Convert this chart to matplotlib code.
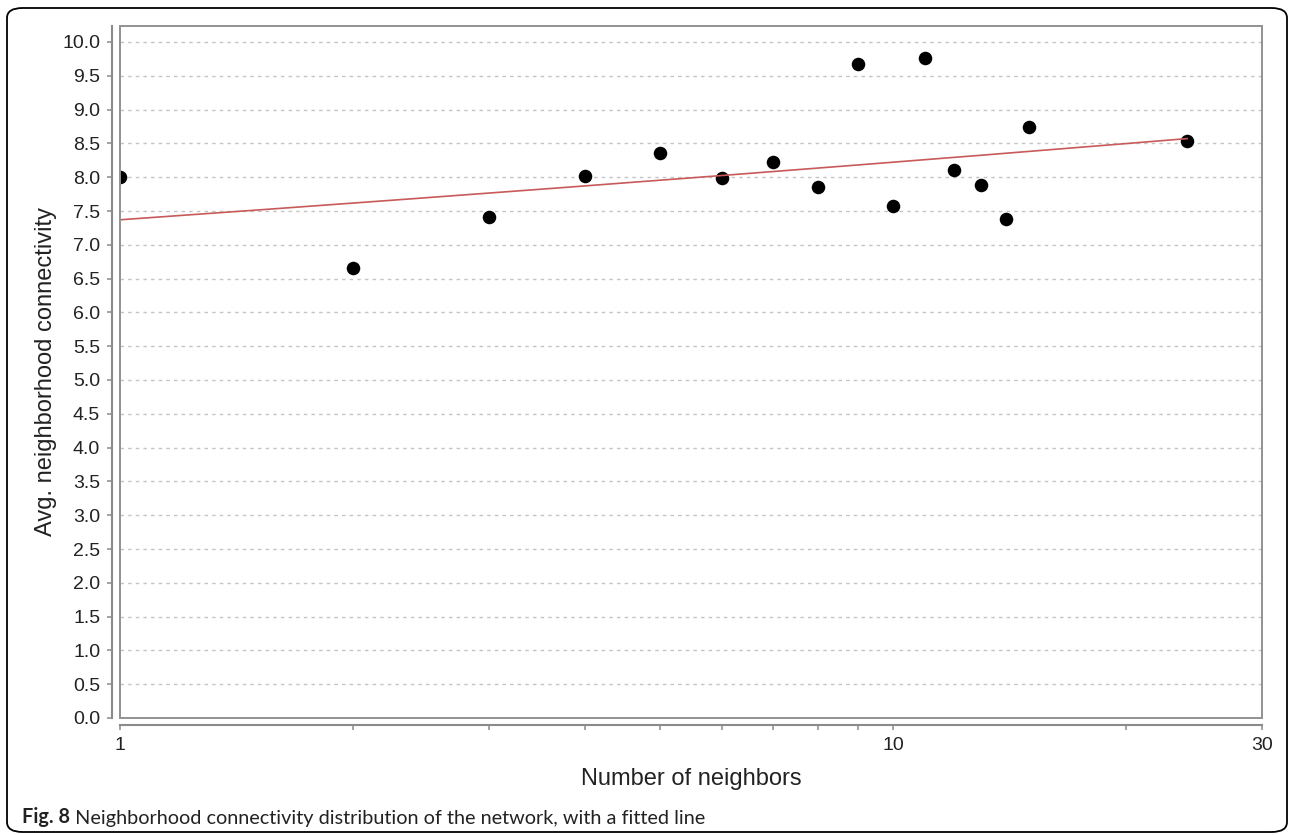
import numpy as np
import matplotlib
matplotlib.use("Agg")
from matplotlib import pyplot as plt
from matplotlib.patches import FancyBboxPatch, Rectangle

# data
neighbors = [1, 2, 3, 4, 5, 6, 7, 8, 9, 10, 11, 12, 13, 14, 15, 24]
avg_conn = [8.0, 6.66, 7.41, 8.02, 8.36, 7.99, 8.22, 7.86, 9.67, 7.58,
            9.76, 8.11, 7.88, 7.38, 8.75, 8.53]

# fitted power law y = a * x^b
fit_a = 7.37
fit_b = 0.0475

x_tick_values = [1, 2, 3, 4, 5, 6, 7, 8, 9, 10, 20, 30]
x_tick_labels = ['1', '', '', '', '', '', '', '', '', '10', '', '30']
y_tick_values = np.arange(0, 10.01, 0.5)

plt.rcParams['font.family'] = ['Liberation Sans', 'DejaVu Sans']

W, H = 1292, 835
fig = plt.figure(figsize=(W / 100, H / 100), dpi=100)

# outer rounded frame
frame = FancyBboxPatch((7 / W, 3 / H), 1280 / W, 824 / H,
                       boxstyle="round,pad=0,rounding_size=0.012",
                       transform=fig.transFigure, fill=False,
                       edgecolor='black', linewidth=1.3)
fig.add_artist(frame)

ax = fig.add_axes([120 / W, (H - 718) / H, 1142 / W, 692 / H])
ax.set_xscale('log')
ax.set_xlim(1, 30)
ax.set_ylim(0, 692 / 67.6)

ax.yaxis.grid(True, linestyle=(0, (2.5, 3)), color='#c4c4c4', linewidth=1)
ax.set_axisbelow(True)

ax.scatter(neighbors, avg_conn, s=95, color='black', zorder=3, linewidths=0)

xs = np.logspace(0, np.log10(max(neighbors)), 200)
ax.plot(xs, fit_a * xs ** fit_b, color='#c85a5a', linewidth=1.2, zorder=4)

# plot border
ax.add_patch(Rectangle((0, 0), 1, 1, transform=ax.transAxes, fill=False,
                       edgecolor='#929292', linewidth=1.4, clip_on=False,
                       zorder=5))

for s in ['top', 'right']:
    ax.spines[s].set_visible(False)
ax.spines['left'].set_position(('outward', 5.8))
ax.spines['bottom'].set_position(('outward', 5.0))
for s in ['left', 'bottom']:
    ax.spines[s].set_color('#8a8a8a')
    ax.spines[s].set_linewidth(1.5)

ax.set_xticks(x_tick_values)
ax.set_xticklabels(x_tick_labels)
ax.xaxis.set_minor_locator(matplotlib.ticker.NullLocator())
ax.set_yticks(y_tick_values)
ax.set_yticklabels(['%.1f' % v for v in y_tick_values])
ax.tick_params(axis='both', direction='out', length=3.5, width=1.1,
               color='#8a8a8a', labelsize=14, labelcolor='#222222', pad=5)

ax.set_xlabel('Number of neighbors', fontsize=17, color='#222222', labelpad=10)
ax.set_ylabel('Avg. neighborhood connectivity', fontsize=17, color='#222222',
              labelpad=4)

# caption
t1 = fig.text(22 / W, (H - 823) / H, 'Fig. 8', fontsize=14.3, fontweight='bold',
              family=['Lato', 'DejaVu Sans'], color='#222222', va='baseline')
ax.annotate(' Neighborhood connectivity distribution of the network, with a fitted line',
            xy=(1, 0), xycoords=t1, va='bottom', ha='left', fontsize=14.3,
            family=['Lato', 'DejaVu Sans'], color='#222222',
            annotation_clip=False)

fig.savefig('out.png', dpi=100)
